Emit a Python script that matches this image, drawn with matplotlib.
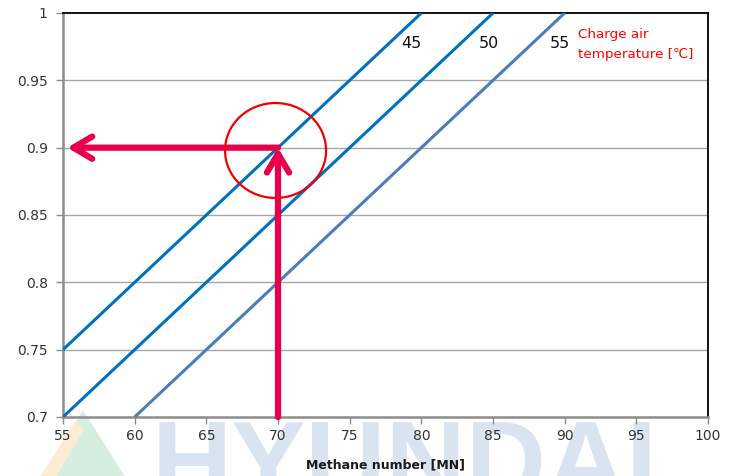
import matplotlib
matplotlib.use("Agg")
import matplotlib.pyplot as plt
from matplotlib import font_manager
from matplotlib.patches import Ellipse, Polygon

# Methane number vs. knock-limit ratio for three charge air temperatures
temps = ["45", "50", "55"]
mn_45 = [55, 80]
val_45 = [0.75, 1.0]
mn_50 = [55, 85]
val_50 = [0.70, 1.0]
mn_55 = [60, 90]
val_55 = [0.70, 1.0]
line_colors = ["#0070C0", "#0070C0", "#4A7EBB"]

# reading example: MN 70 -> 0.9
example_mn = 70
example_val = 0.90
x_ticks = [55, 60, 65, 70, 75, 80, 85, 90, 95, 100]
y_ticks = [0.7, 0.75, 0.8, 0.85, 0.9, 0.95, 1.0]
y_tick_labels = ["0.7", "0.75", "0.8", "0.85", "0.9", "0.95", "1"]

fig = plt.figure(figsize=(7.38, 4.76), dpi=100)
ax = fig.add_axes([63 / 738, 1 - 417 / 476, 645 / 738, 404 / 476])

for y in y_ticks[1:-1]:
    ax.axhline(y, color="#A6A6A6", lw=1.0, zorder=1)

for xs, ys, c in zip([mn_45, mn_50, mn_55], [val_45, val_50, val_55], line_colors):
    ax.plot(xs, ys, color=c, lw=2.2, solid_capstyle="butt", zorder=3)

label_pos = [(79.3, 0.977), (84.7, 0.977), (89.7, 0.977)]
for t, (lx, ly) in zip(temps, label_pos):
    ax.text(lx, ly, t, fontsize=11.5, color="#111111", ha="center", va="center", zorder=5)

ax.text(90.9, 0.9765, "Charge air\ntemperature [\u2103]", fontsize=9.7, color="#FF0000",
        ha="left", va="center", linespacing=1.75, zorder=5)

red = "#E8004C"
head = "->,head_length=1.35,head_width=0.8"
# vertical arrow from the axis up to the reading point
ax.annotate("", xy=(example_mn, example_val), xytext=(example_mn, 0.7),
            arrowprops=dict(arrowstyle=head, color=red, lw=4.5, shrinkA=0, shrinkB=0,
                            capstyle="round", joinstyle="round"), zorder=6)
# horizontal arrow back to the value axis
ax.annotate("", xy=(55.3, example_val), xytext=(example_mn, example_val),
            arrowprops=dict(arrowstyle=head, color=red, lw=4.5, shrinkA=0, shrinkB=0,
                            capstyle="round", joinstyle="round"), zorder=6)

ax.add_patch(Ellipse((69.83, 0.8979), 7.05, 0.0705, fill=False, ec="#F00000", lw=1.6, zorder=7))

ax.set_xlim(55, 100)
ax.set_ylim(0.7, 1.0)
ax.set_xticks(x_ticks)
ax.set_xticklabels([str(v) for v in x_ticks])
ax.set_yticks(y_ticks)
ax.set_yticklabels(y_tick_labels)
ax.tick_params(axis="both", labelsize=10, labelcolor="#333333", color="#8C8C8C",
               length=5, width=1)
ax.tick_params(axis="x", pad=4)
ax.tick_params(axis="y", pad=6)
for s in ["left", "bottom"]:
    ax.spines[s].set_color("#8C8C8C")
    ax.spines[s].set_linewidth(1.8)
for s in ["top", "right"]:
    ax.spines[s].set_color("black")
    ax.spines[s].set_linewidth(1.3)
ax.set_xlabel("Methane number [MN]", fontsize=9, fontweight="bold", color="#1a1a1a", labelpad=11)

# faint company watermark along the bottom edge
names = {f.name for f in font_manager.fontManager.ttflist}
if "Liberation Sans Narrow" in names:
    wm_family, wm_size, wm_base = "Liberation Sans Narrow", 97, 517
else:
    wm_family, wm_size, wm_base = "Liberation Sans", 80, 499
fig.text(405 / 738, 1 - wm_base / 476, "HYUNDAI", family=wm_family, fontsize=wm_size,
         fontweight="bold", color="#DAE4F0", ha="center", va="baseline", zorder=-1)
fig.patches.append(Polygon([[83 / 738, 1 - 410 / 476], [127 / 738, 1 - 480 / 476],
                            [41 / 738, 1 - 480 / 476]], closed=True,
                           transform=fig.transFigure, fc="#D5EEDF", ec="none",
                           zorder=-1))
fig.patches.append(Polygon([[76 / 738, 1 - 420 / 476], [84 / 738, 1 - 430 / 476],
                            [54 / 738, 1 - 480 / 476], [38 / 738, 1 - 480 / 476]], closed=True,
                           transform=fig.transFigure, fc="#FCEDD2", ec="none",
                           zorder=-1))
ax.set_zorder(1)
ax.patch.set_alpha(0)

fig.savefig("out.png", dpi=100)
